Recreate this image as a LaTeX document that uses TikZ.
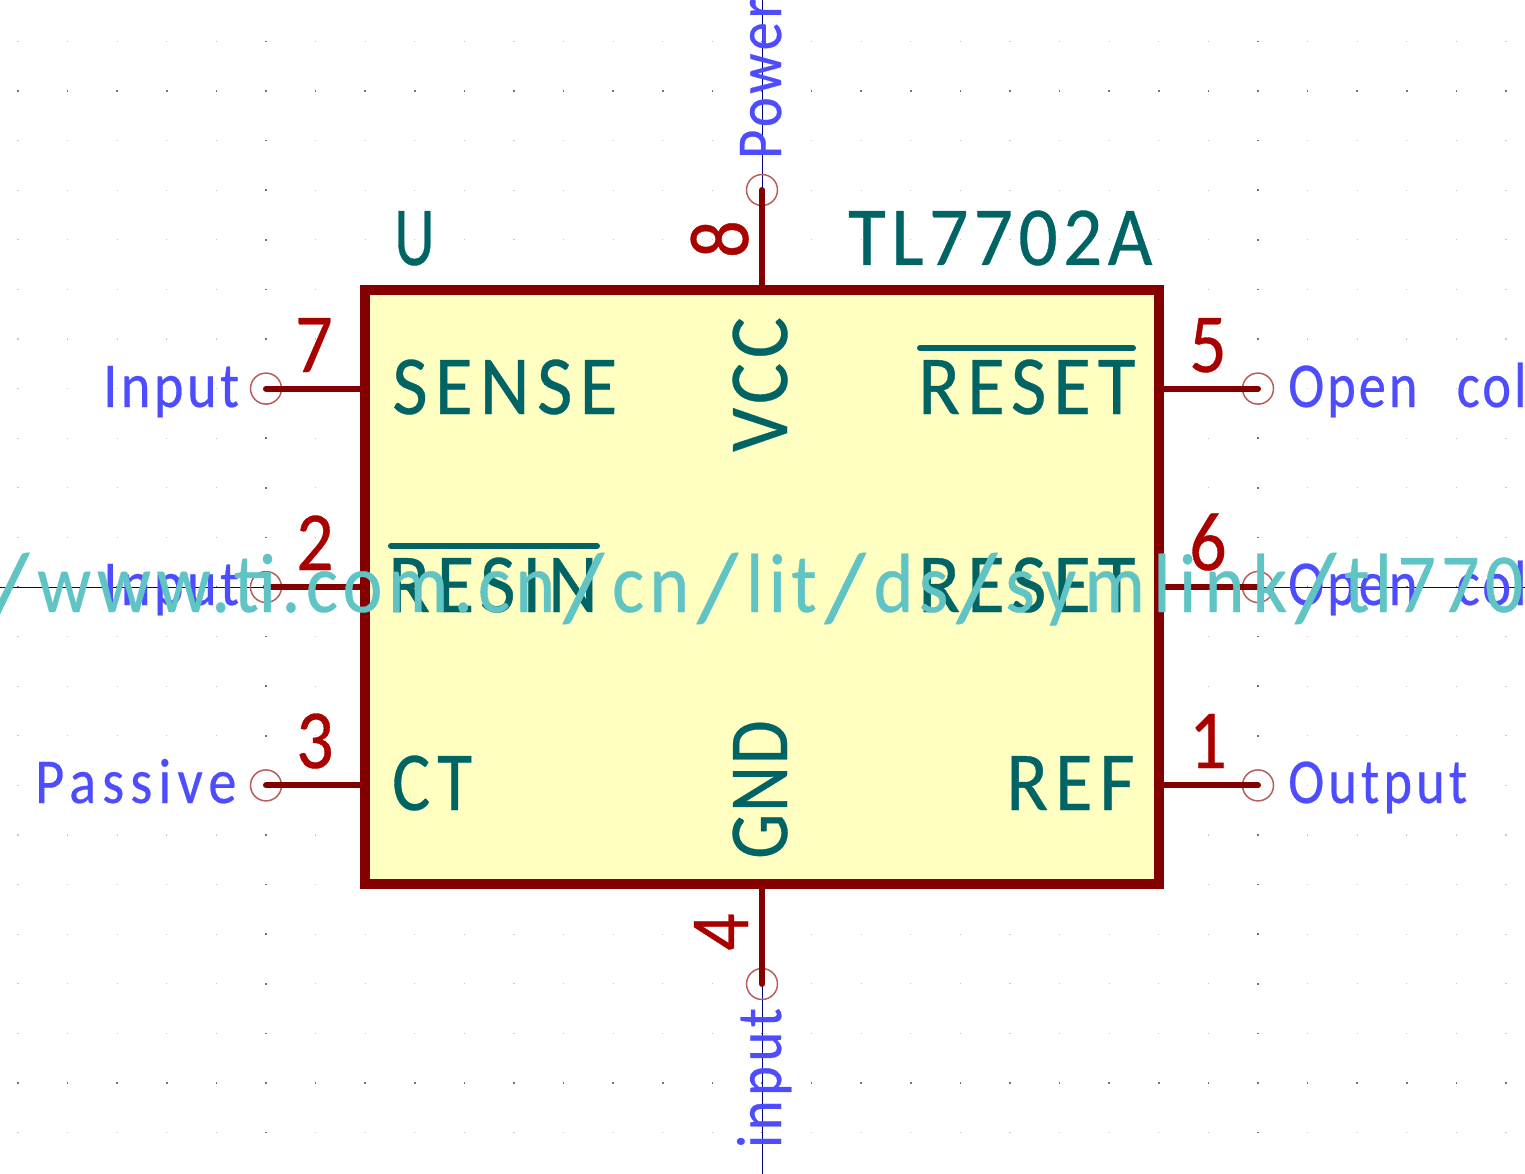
\documentclass[tikz,border=0pt]{standalone}
\usepackage{graphicx}
\usepackage{fontspec}
\newfontfamily\kifont{Carlito}
\definecolor{pincol}{HTML}{840000}
\definecolor{numcol}{HTML}{A90000}
\definecolor{namecol}{HTML}{006464}
\definecolor{typecol}{HTML}{4D4DFF}
\definecolor{urlcol}{HTML}{60C4C4}
\definecolor{bodycol}{HTML}{FFFFC2}
\definecolor{axiscol}{HTML}{000084}
\definecolor{endcol}{HTML}{B85C5C}
\newcommand{\fitfont}[2]{\addfontfeatures{FakeStretch=#1,LetterSpace=#2,FakeBold=0.4}}
\newcommand{\urlslash}{\kern8pt\raisebox{-8pt}{\scalebox{1.4}[1.15]{/}}\kern8pt}

\begin{document}
\begin{tikzpicture}[x=1pt, y=-1pt, line cap=round, line join=round,
	symbody/.style={draw=pincol, fill=bodycol, line width=10pt, line cap=butt, line join=miter, rectangle, inner sep=0, minimum width=794pt, minimum height=594pt},
	pinline/.style={draw=pincol, line width=6pt},
	pinend/.style={draw=endcol, line width=1.5pt, circle, inner sep=0, minimum size=31pt},
	pinnum/.style={text=numcol, inner sep=0, anchor=base west, font=\kifont\fontsize{84}{90}\selectfont},
	pinname/.style={text=namecol, inner sep=0, anchor=base west, font=\kifont\fontsize{84}{90}\selectfont},
	pintype/.style={text=typecol, inner sep=0, anchor=base west, font=\kifont\fontsize{64}{70}\selectfont},
	urltext/.style={text=urlcol, inner sep=0, anchor=base, font=\kifont\fontsize{84}{90}\selectfont},
	griddot/.style={fill=black!22},
	griddark/.style={fill=black!55}]
	
	\useasboundingbox (0,0) rectangle (1525,1174);
	\clip (0,0) rectangle (1525,1174);
	
	% ===== Grid dots and axes =====
	\foreach \k in {-15,...,15}
		\foreach \m in {-11,...,11}
			\fill[griddot] (762+\k*49.6-0.6,587+\m*49.6-0.6) rectangle ++(1.2,1.2);
	\foreach \m in {-10,0,10}
		\foreach \k in {-15,...,15}
			\fill[griddark] (762+\k*49.6-0.8,587+\m*49.6-0.6) rectangle ++(1.6,1.2);
	\foreach \k in {-10,0,10}
		\foreach \m in {-11,...,11}
			\fill[griddark] (762+\k*49.6-0.6,587+\m*49.6-0.8) rectangle ++(1.2,1.6);
	
	\coordinate (axisW) at (0,587);
	\coordinate (axisE) at (1525,587);
	\coordinate (axisN) at (762,0);
	\coordinate (axisS) at (762,1174);
	\draw[axiscol, line width=1pt, line cap=butt] (axisW) -- (axisE);
	\draw[axiscol, line width=1pt, line cap=butt] (axisN) -- (axisS);
	
	% ===== Symbol body =====
	\node[symbody] (body) at (762,587) {};
	
	% ===== Pins: end circles, then line to the body =====
	\node[pinend] (end7) at (266,388.6) {};
	\node[pinend] (end2) at (266,587) {};
	\node[pinend] (end3) at (266,785.4) {};
	\node[pinend] (end5) at (1258,388.6) {};
	\node[pinend] (end6) at (1258,587) {};
	\node[pinend] (end1) at (1258,785.4) {};
	\node[pinend] (end8) at (762,190) {};
	\node[pinend] (end4) at (762,984) {};
	
	\draw[pinline] (end7.center) -- (end7.center -| body.west);
	\draw[pinline] (end2.center) -- (end2.center -| body.west);
	\draw[pinline] (end3.center) -- (end3.center -| body.west);
	\draw[pinline] (end5.center) -- (end5.center -| body.east);
	\draw[pinline] (end6.center) -- (end6.center -| body.east);
	\draw[pinline] (end1.center) -- (end1.center -| body.east);
	\draw[pinline] (end8.center) -- (end8.center |- body.north);
	\draw[pinline] (end4.center) -- (end4.center |- body.south);
	
	% pin numbers
	\node[pinnum] (num7) at (295,372) {\fitfont{.88}{0}7};
	\node[pinnum] (num2) at (296,570) {\fitfont{.88}{0}2};
	\node[pinnum] (num3) at (296,768) {\fitfont{.88}{0}3};
	\node[pinnum] (num5) at (1189,372) {\fitfont{.88}{0}5};
	\node[pinnum] (num6) at (1189,570) {\fitfont{.88}{0}6};
	\node[pinnum] (num1) at (1189,768) {\fitfont{.88}{0}1};
	\node[pinnum, rotate=90] (num8) at (748,258) {\fitfont{.88}{0}8};
	\node[pinnum, rotate=90] (num4) at (748,951) {\fitfont{.88}{0}4};
	
	% pin names
	\node[pinname] (sense) at (392,414) {\fitfont{.92}{8.6}SENSE};
	\node[pinname] (reset) at (918,414) {\fitfont{.92}{8.2}RESET};
	\node[pinname] (resin) at (388,612) {\fitfont{.92}{7.7}RESIN};
	\node[pinname] (rst) at (918,612) {\fitfont{.92}{8.2}RESET};
	\node[pinname] (ct) at (392,810) {\fitfont{.85}{8}CT};
	\node[pinname] (ref) at (1006,810) {\fitfont{.92}{8}REF};
	\node[pinname, rotate=90] (vcc) at (787,452) {\fitfont{.92}{5.5}VCC};
	\node[pinname, rotate=90] (gnd) at (787,859) {\fitfont{.85}{2}GND};
	\draw[namecol, line width=6pt] (391,546) -- (597,546);
	\draw[namecol, line width=6pt] (920,348) -- (1133,348);
	
	% pin types
	\node[pintype] (ty7) at (103,407) {\fitfont{.88}{5.5}Input};
	\node[pintype] (ty2) at (103,605) {\fitfont{.88}{5.5}Input};
	\node[pintype] (ty3) at (35,803) {\fitfont{.88}{9.5}Passive};
	\node[pintype] (ty5) at (1288,407) {\fitfont{.85}{4.7}Open\hspace{24pt} collector};
	\node[pintype] (ty6) at (1288,605) {\fitfont{.85}{4.7}Open\hspace{24pt} collector};
	\node[pintype] (ty1) at (1288,803) {\fitfont{.85}{6.5}Output};
	\node[pintype, rotate=90] (ty8) at (781,159) {\fitfont{.88}{5.9}Power};
	\node[pintype, rotate=90] (ty4) at (781,1148) {\fitfont{.88}{7.5}input};
	
	% reference and value fields
	\node[pinname] (refdes) at (394,265) {\fitfont{.75}{0}U};
	\node[pinname] (value) at (848,265) {\fitfont{.92}{6.5}TL7702A};
	
	% datasheet field over everything
	\node[urltext] (url) at (756,612) {\fitfont{.9}{6.4}http:\urlslash\urlslash www.ti.com.cn\urlslash cn\urlslash lit\urlslash ds\urlslash {\addfontfeatures{LetterSpace=10}symlink}\urlslash tl7702a.pdf};
	
\end{tikzpicture}
\end{document}
